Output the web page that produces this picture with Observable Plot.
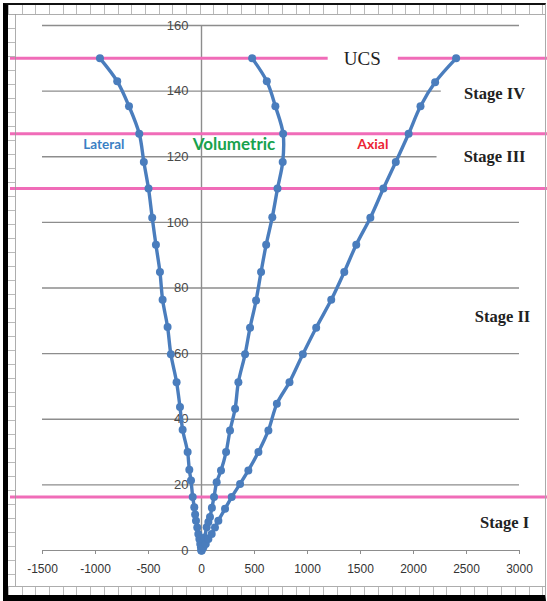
<!DOCTYPE html>
<html>
<head>
<meta charset="utf-8">
<script src="https://cdn.jsdelivr.net/npm/d3@7"></script>
<script src="https://cdn.jsdelivr.net/npm/@observablehq/plot@0.6"></script>
<style>
  html, body { margin: 0; padding: 0; background: white; }
  #wrap { position: relative; width: 547px; height: 601px; overflow: hidden; }
  #chart svg { display: block; }
  .frame { position: absolute; left: 3px; top: 3px; width: 543px; height: 598px; box-sizing: border-box;
    border-left: 5px solid #000; border-top: 2px solid #111; border-bottom: 6px solid #000; border-right: 1px solid #aaa; pointer-events: none; }
  .rtop { position: absolute; left: 8px; top: 5px; width: 538px; height: 9px; border-bottom: 1px solid #999;
    background: repeating-linear-gradient(90deg, #aaa 0 1px, transparent 1px 13.7px); opacity: .8; }
  .rleft { position: absolute; left: 8px; top: 14px; width: 7px; height: 572px; border-right: 1px solid #999;
    background: repeating-linear-gradient(180deg, #aaa 0 1px, transparent 1px 14px); opacity: .8; }
  .rbot { position: absolute; left: 8px; top: 586px; width: 538px; height: 9px; border-top: 1px solid #999;
    background: repeating-linear-gradient(90deg, #aaa 0 1px, transparent 1px 13.7px); opacity: .8; }
</style>
</head>
<body>
<div id="wrap"><div id="chart"></div><div class="rtop"></div><div class="rleft"></div><div class="rbot"></div><div class="frame"></div></div>
<script>
// ---- Data ----
const xTicks = [-1500, -1000, -500, 0, 500, 1000, 1500, 2000, 2500, 3000];
const yTicks = [0, 20, 40, 60, 80, 100, 120, 140, 160];
const stageBounds = [16.3, 110.3, 127, 150];

const lateralStrain = [0, -5, -12, -20, -30, -40, -52, -60, -68, -83, -99, -115, -131, -178, -203, -235, -289, -320, -367, -392, -430, -465, -500, -544, -587, -684, -795, -958];
const lateralStress = [0, 1, 2, 3.5, 5, 7, 9.1, 11, 13.2, 16.3, 21.3, 24.6, 30, 36.8, 43.7, 51.3, 59.8, 68.1, 76.4, 84.9, 93.2, 101.4, 110.3, 118.4, 127, 135.4, 143, 150];

const volumetricStrain = [0, 8, 15, 22, 30, 49, 65, 80, 98, 118, 143, 184, 232, 269, 317, 348, 411, 458, 515, 562, 610, 668, 717, 766, 770, 697, 616, 478];
const volumetricStress = [0, 1, 2, 3, 4, 7.1, 8.7, 10.2, 13, 16.3, 20.8, 24.4, 30, 36.6, 43.2, 51.3, 59.8, 67.9, 76.2, 84.9, 93.2, 101.6, 110.3, 118.4, 127, 135.4, 143, 150];

const axialStrain = [0, 18, 40, 65, 96, 127, 159, 222, 285, 364, 442, 537, 631, 711, 830, 956, 1082, 1224, 1347, 1460, 1593, 1716, 1833, 1954, 2066, 2204, 2402];
const axialStress = [0, 1, 2, 3.5, 5, 7, 9.1, 12.7, 16.3, 20.3, 24.4, 30, 36.6, 44.7, 51.3, 59.8, 67.9, 76.4, 84.9, 93.2, 101.4, 110.3, 118.4, 127, 135.4, 142.7, 150];

const seriesNames = ["Lateral", "Volumetric", "Axial"];
const stageNames = ["Stage I", "Stage II", "Stage III", "Stage IV"];

const toRows = (name, xs, ys) => xs.map((x, i) => ({series: name, strain: x, stress: ys[i]}));
const rows = [
  ...toRows("Lateral", lateralStrain, lateralStress),
  ...toRows("Volumetric", volumetricStrain, volumetricStress),
  ...toRows("Axial", axialStrain, axialStress)
];

const lineColor = "#4a7dbd";
const pink = "#f06cb8";
const gridColor = "#8d8d8d";

const chart = Plot.plot({
  width: 547,
  height: 601,
  marginLeft: 42,
  marginRight: 28,
  marginTop: 25,
  marginBottom: 51,
  style: {background: "white", fontFamily: "'Liberation Sans', Arial, sans-serif"},
  x: {domain: [-1500, 3000], axis: null},
  y: {domain: [0, 160], axis: null},
  marks: [
    Plot.ruleY(yTicks.filter(d => d > 0), {stroke: gridColor, strokeWidth: 1.4}),
    Plot.ruleX([0], {stroke: gridColor, strokeWidth: 1.4}),
    Plot.ruleY([0], {stroke: gridColor, strokeWidth: 1}),
    // white boxes behind the stage labels
    Plot.rect([{x1: 2262, x2: 3060, y1: 136, y2: 145}, {x1: 2222, x2: 3060, y1: 116, y2: 124}],
      {x1: "x1", x2: "x2", y1: "y1", y2: "y2", fill: "white"}),
    Plot.text(yTicks, {x: 0, y: d => d, text: d => String(d), dx: -13, textAnchor: "end", fontSize: 13, fill: "#4a4a4a"}),
    Plot.axisX({ticks: xTicks, tickFormat: d => String(d), tickSize: 4, tickPadding: 10, fontSize: 12, stroke: gridColor, color: "#333", label: null}),
    // stage boundaries
    Plot.ruleY(stageBounds, {stroke: pink, strokeWidth: 3, insetLeft: -32, insetRight: -28}),
    Plot.rect([{x1: 1195, x2: 1857, y1: 147, y2: 153}], {x1: "x1", x2: "x2", y1: "y1", y2: "y2", fill: "white"}),
    Plot.text(["UCS"], {x: 1517, y: 149.7, text: d => d, fontFamily: "'Liberation Serif', 'Times New Roman', serif", fontSize: 19, fill: "#222"}),
    // curves
    Plot.line(rows, {x: "strain", y: "stress", z: "series", stroke: lineColor, strokeWidth: 3.4, curve: "catmull-rom"}),
    Plot.dot(rows, {x: "strain", y: "stress", fill: lineColor, r: 4}),
    // series labels
    Plot.text([seriesNames[0]], {x: -921, y: 123.8, text: d => d, fontFamily: "Lato, sans-serif", fontWeight: "bold", fontSize: 13.5, fill: "#3b7fc4"}),
    Plot.text([seriesNames[1]], {x: 307, y: 123.6, text: d => d, fontFamily: "Lato, sans-serif", fontWeight: "bold", fontSize: 17, fill: "#18a24d"}),
    Plot.text([seriesNames[2]], {x: 1616, y: 123.6, text: d => d, fontFamily: "Lato, sans-serif", fontWeight: "bold", fontSize: 14, fill: "#ec2535"}),
    // stage labels
    Plot.text([stageNames[3]], {x: 2765, y: 139.2, text: d => d, fontFamily: "'Liberation Serif', serif", fontWeight: "bold", fontSize: 16.5, fill: "#222"}),
    Plot.text([stageNames[2]], {x: 2765, y: 119.9, text: d => d, fontFamily: "'Liberation Serif', serif", fontWeight: "bold", fontSize: 16.5, fill: "#222"}),
    Plot.text([stageNames[1]], {x: 2840, y: 71.1, text: d => d, fontFamily: "'Liberation Serif', serif", fontWeight: "bold", fontSize: 16.5, fill: "#222"}),
    Plot.text([stageNames[0]], {x: 2859, y: 8.6, text: d => d, fontFamily: "'Liberation Serif', serif", fontWeight: "bold", fontSize: 16.5, fill: "#222"})
  ]
});
document.getElementById("chart").appendChild(chart);
</script>
</body>
</html>
